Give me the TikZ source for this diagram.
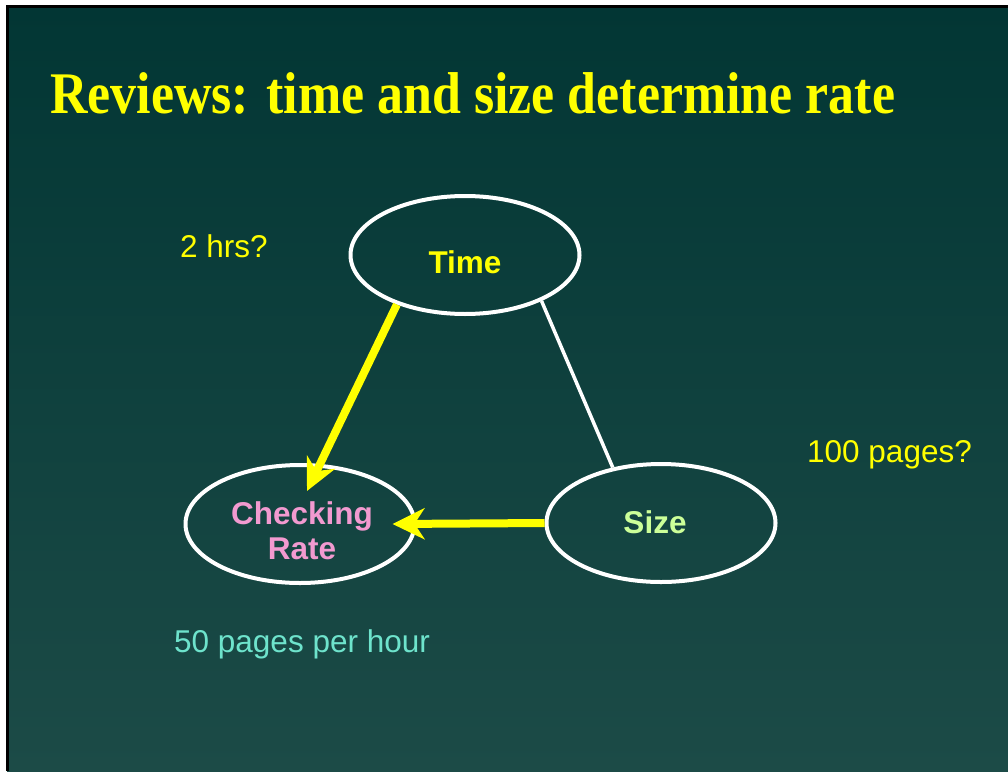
\documentclass[tikz,border=0pt]{standalone}
\usepackage{fontspec}
\usetikzlibrary{shapes.geometric,arrows.meta,calc}
\newfontfamily\sansfont{Liberation Sans}
\newfontfamily\seriffont{Liberation Serif}
\definecolor{slidetop}{HTML}{023634}
\definecolor{slidebottom}{HTML}{1C4B47}
\definecolor{hiyellow}{HTML}{FFFF00}
\definecolor{ratepink}{HTML}{F29AD0}
\definecolor{sizegreen}{HTML}{CCFF99}
\definecolor{notecyan}{HTML}{6EE3CC}
\tikzset{
  bubble/.style={ellipse, draw=white, line width=4pt, inner sep=0pt,
    minimum width=229pt, minimum height=118pt},
  boldlabel/.style={inner sep=0pt, font=\sansfont\bfseries\fontsize{31.5}{35}\selectfont},
  notetext/.style={inner sep=0pt, font=\sansfont\fontsize{31.5}{35}\selectfont},
  flow/.style={draw=hiyellow, line width=8pt,
    -{Stealth[length=32pt, width=31pt, inset=10pt, fill=hiyellow]}},
  link/.style={draw=white, line width=3.5pt}
}
\begin{document}
\begin{tikzpicture}[x=1pt, y=-1pt]
  \useasboundingbox (0,0) rectangle (1008,771);
  % slide background with its frame on the left and top
  \shade[top color=slidetop, bottom color=slidebottom] (7,6) rectangle (1008,771);
  \draw[black, line width=3pt] (7.5,771) -- (7.5,6.5) -- (1008,6.5);

  % title
  \node[anchor=base west, inner sep=0pt, text=hiyellow] (title) at (50,113)
    {\scalebox{0.88}[1]{\seriffont\bfseries\fontsize{59}{64}\selectfont Reviews: time and size determine rate}};

  % the three quantities
  \node[bubble] (time) at (465,255) {};
  \node[bubble] (rate) at (300,524) {};
  \node[bubble] (size) at (661,523) {};

  \node[boldlabel, text=hiyellow, anchor=base] (timelabel) at (465,273) {Time};
  \node[boldlabel, text=ratepink, align=center] (ratelabel) at (302,531) {Checking\\Rate};
  \node[boldlabel, text=sizegreen, anchor=base] (sizelabel) at (655,533) {Size};

  % relations
  \draw[link] (time.-31.6) -- (size.131);
  \draw[flow] (time.216.4) -- ($(rate.center)+(7,-33)$);
  \draw[flow] (size.west) -- ($(rate.east)+(-24,0)$);

  % example figures
  \node[notetext, text=hiyellow, anchor=base west] (hrs) at (180,257) {2 hrs?};
  \node[notetext, text=hiyellow, anchor=base west] (pages) at (807,462) {100 pages?};
  \node[notetext, text=notecyan, anchor=base west] (speed) at (174,652) {50 pages per hour};
\end{tikzpicture}
\end{document}
